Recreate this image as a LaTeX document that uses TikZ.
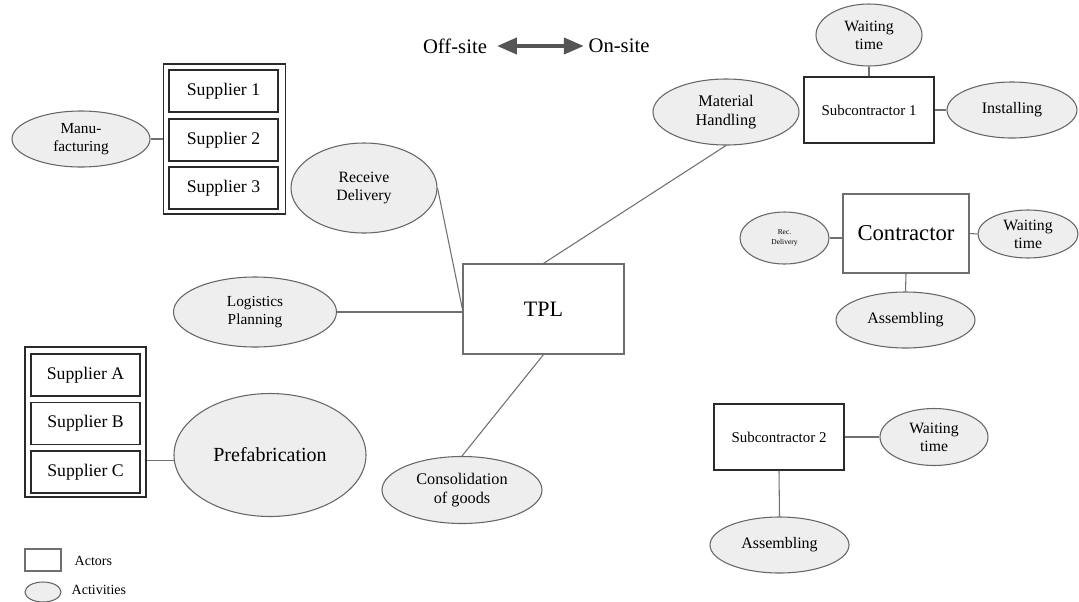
\documentclass[tikz,border=0pt]{standalone}
\usepackage{fontspec}
\setmainfont{Liberation Serif}
\usetikzlibrary{shapes.geometric,arrows.meta}
\definecolor{actfill}{HTML}{EEEEEE}
\definecolor{actedge}{HTML}{666666}
\definecolor{linkgray}{HTML}{707070}
\definecolor{boxdark}{HTML}{2A2A2A}
\definecolor{boxgray}{HTML}{6E6E6E}
\definecolor{arrowgray}{HTML}{555555}
\tikzset{
  act/.style={ellipse, draw=actedge, fill=actfill, line width=0.8pt, inner sep=0pt, align=center},
  actorbox/.style={rectangle, draw=boxdark, line width=1.1pt, inner sep=0pt, align=center},
  actorsoft/.style={rectangle, draw=boxgray, line width=0.9pt, inner sep=0pt, align=center},
  groupbox/.style={rectangle, draw=boxdark, line width=1pt, inner sep=0pt},
  supbox/.style={rectangle, draw=boxdark, line width=1.3pt, inner sep=0pt,
    minimum width=109*0.75pt, minimum height=42*0.75pt, font=\fontsize{13.3}{15}\selectfont},
  link/.style={draw=linkgray, line width=0.8pt},
  dims/.style n args={2}{minimum width=#1*0.75pt, minimum height=#2*0.75pt},
}
\begin{document}
\begin{tikzpicture}[x=0.75pt,y=-0.75pt]
\useasboundingbox (0,0) rectangle (1079,601);

% site direction header
\node[font=\fontsize{15.5}{18}\selectfont] (off) at (455,46) {Off-site};
\node[font=\fontsize{15.5}{18}\selectfont] (on) at (619,46) {On-site};
\draw[arrowgray, line width=3pt, {Triangle[length=15pt,width=12pt]}-{Triangle[length=15pt,width=12pt]}]
  ([xshift=4pt]off.east) -- (on.west);

% supplier group 1..3 with manufacturing
\node[groupbox, dims={122}{150}] (grp1) at (224.5,139) {};
\node[supbox] (s1) at (223.5,91) {Supplier 1};
\node[supbox] (s2) at (223.5,140) {Supplier 2};
\node[supbox] (s3) at (223.5,188) {Supplier 3};
\node[act, dims={138}{56}, font=\fontsize{11.5}{13.5}\selectfont] (mf) at (81,139) {Manu-\\facturing};
\draw[link] (mf.east) -- (grp1.west);

% supplier group A..C with prefabrication
\node[groupbox, dims={121}{150}] (grpA) at (85.5,422) {};
\node[supbox] (sa) at (85.5,375) {Supplier A};
\node[supbox] (sb) at (85.5,423.5) {Supplier B};
\node[supbox] (sc) at (85.5,472) {Supplier C};
\node[act, dims={192}{123}, font=\fontsize{15}{17}\selectfont] (pf) at (270,455) {Prefabrication};
\draw[link] (pf.183) -- (pf.183 -| grpA.east);

% third party logistics and its activities
\node[actorsoft, dims={161}{90}, font=\fontsize{16.5}{19}\selectfont] (tpl) at (543.5,309) {TPL};
\node[act, dims={146}{90}, font=\fontsize{11.8}{13.8}\selectfont] (rd) at (364,188) {Receive\\Delivery};
\node[act, dims={163}{70}, font=\fontsize{11.5}{14}\selectfont] (lp) at (255,312) {Logistics\\Planning};
\node[act, dims={160}{67}, font=\fontsize{12.2}{14}\selectfont] (cg) at (462,490) {Consolidation\\of goods};
\node[act, dims={146}{66}, font=\fontsize{12.2}{14.2}\selectfont] (mh) at (726,112) {Material\\Handling};
\draw[link] (rd.east) -- (tpl.west);
\draw[link] (lp.east) -- (lp.east -| tpl.west);
\draw[link] (tpl.south) -- (cg.north);
\draw[link] (tpl.north) -- (mh.south);

% subcontractor 1
\node[actorbox, dims={130}{66}, font=\fontsize{11.2}{13}\selectfont] (sub1) at (869,110) {Subcontractor 1};
\node[act, dims={106}{62}, font=\fontsize{11.8}{13.5}\selectfont] (wt1) at (869,35) {Waiting\\time};
\node[act, dims={130}{56}, font=\fontsize{12}{14}\selectfont] (ins) at (1012,110) {Installing};
\draw[link] (sub1.north) -- (wt1.south);
\draw[link] (sub1.east) -- (ins.west);

% contractor
\node[actorsoft, dims={126}{79}, font=\fontsize{17}{19}\selectfont] (con) at (906,233.5) {Contractor};
\node[act, dims={89}{52}, font=\fontsize{5.6}{7}\selectfont] (rcd) at (784.5,238) {Rec.\\Delivery};
\node[act, dims={100}{48}, font=\fontsize{11.8}{13.5}\selectfont] (wt2) at (1028,234) {Waiting\\time};
\node[act, dims={139}{56}, font=\fontsize{12}{14}\selectfont] (as1) at (905.5,320) {Assembling};
\draw[link] (rcd.east) -- (rcd.east -| con.west);
\draw[link] (con.east) -- (wt2.west);
\draw[link] (con.south) -- (as1.north);

% subcontractor 2
\node[actorbox, dims={130}{66}, font=\fontsize{11.2}{13}\selectfont] (sub2) at (779,437) {Subcontractor 2};
\node[act, dims={108}{57}, font=\fontsize{11.8}{13.5}\selectfont] (wt3) at (934,437) {Waiting\\time};
\node[act, dims={139}{56}, font=\fontsize{12}{14}\selectfont] (as2) at (779.5,545) {Assembling};
\draw[link] (sub2.east) -- (wt3.west);
\draw[link] (sub2.south) -- (as2.north);

% legend
\node[rectangle, draw=boxgray, line width=0.9pt, dims={36}{22}] (legbox) at (43,560) {};
\node[anchor=west, font=\fontsize{10.5}{12}\selectfont] (legboxt) at (70,561) {Actors};
\node[ellipse, draw=actedge, fill=actfill, line width=0.8pt, inner sep=0pt, dims={36}{20}] (legell) at (43,592) {};
\node[anchor=west, font=\fontsize{10.5}{12}\selectfont] (legellt) at (67,590) {Activities};
\end{tikzpicture}
\end{document}
